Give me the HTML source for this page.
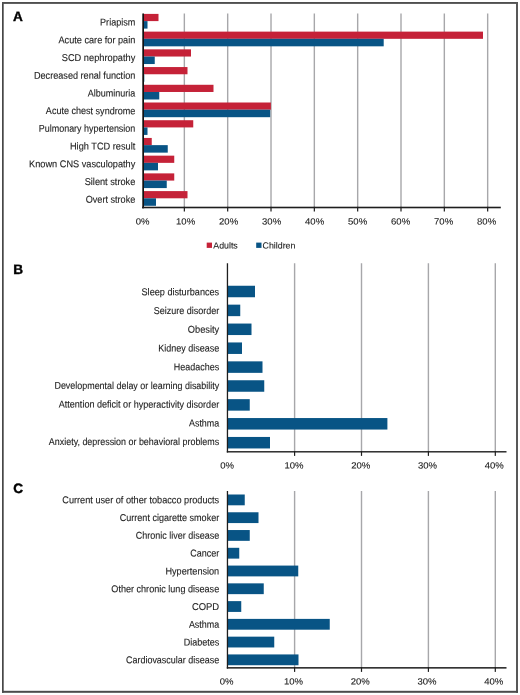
<!DOCTYPE html>
<html><head><meta charset="utf-8"><title>Figure</title>
<style>
html,body{margin:0;padding:0;background:#fff;}
body{width:520px;height:695px;overflow:hidden;}
svg{display:block;font-family:"Liberation Sans",sans-serif;-webkit-font-smoothing:antialiased;will-change:transform;text-rendering:geometricPrecision;}
</style></head>
<body>
<svg width="520" height="695" viewBox="0 0 520 695">
<rect x="0" y="0" width="520" height="695" fill="#fff"/>
<rect x="2.00" y="2.00" width="1.70" height="690.80" fill="#474747"/>
<rect x="2.00" y="2.00" width="516.00" height="1.90" fill="#505050"/>
<rect x="516.00" y="2.00" width="2.00" height="690.80" fill="#585858"/>
<rect x="2.00" y="690.80" width="516.00" height="2.00" fill="#4b4b4b"/>
<g font-size="13.6" font-weight="bold" fill="#000" stroke="#000" stroke-width="0.4">
<text x="12.9" y="20.7">A</text>
<text x="13.3" y="274.1">B</text>
<text x="13.2" y="493.4">C</text>
</g>
<rect x="183.65" y="13.50" width="1.40" height="193.20" fill="#a7a7aa"/>
<rect x="226.98" y="13.50" width="1.40" height="193.20" fill="#a7a7aa"/>
<rect x="270.31" y="13.50" width="1.40" height="193.20" fill="#a7a7aa"/>
<rect x="313.64" y="13.50" width="1.40" height="193.20" fill="#a7a7aa"/>
<rect x="356.97" y="13.50" width="1.40" height="193.20" fill="#a7a7aa"/>
<rect x="400.30" y="13.50" width="1.40" height="193.20" fill="#a7a7aa"/>
<rect x="443.63" y="13.50" width="1.40" height="193.20" fill="#a7a7aa"/>
<rect x="486.96" y="13.50" width="1.40" height="193.20" fill="#a7a7aa"/>
<rect x="143.00" y="13.90" width="15.50" height="7.20" fill="#c52238"/>
<rect x="143.00" y="21.10" width="4.50" height="7.50" fill="#085485"/>
<text transform="translate(135.30,25.55) rotate(0.03) scale(1.0059,1.1)" text-anchor="end" font-size="9" font-weight="normal" fill="#1c1c1c" stroke="#1c1c1c" stroke-width="0.1">Priapism</text>
<rect x="143.00" y="31.62" width="340.00" height="7.20" fill="#c52238"/>
<rect x="143.00" y="38.82" width="240.70" height="7.50" fill="#085485"/>
<text transform="translate(135.30,43.27) rotate(0.03) scale(1.0167,1.1)" text-anchor="end" font-size="9" font-weight="normal" fill="#1c1c1c" stroke="#1c1c1c" stroke-width="0.1">Acute care for pain</text>
<rect x="143.00" y="49.34" width="48.00" height="7.20" fill="#c52238"/>
<rect x="143.00" y="56.54" width="11.75" height="7.50" fill="#085485"/>
<text transform="translate(135.30,60.99) rotate(0.03) scale(1.0282,1.1)" text-anchor="end" font-size="9" font-weight="normal" fill="#1c1c1c" stroke="#1c1c1c" stroke-width="0.1">SCD nephropathy</text>
<rect x="143.00" y="67.06" width="44.50" height="7.20" fill="#c52238"/>
<rect x="143.00" y="74.26" width="1.30" height="7.50" fill="#085485"/>
<text transform="translate(135.30,78.71) rotate(0.03) scale(1.0131,1.1)" text-anchor="end" font-size="9" font-weight="normal" fill="#1c1c1c" stroke="#1c1c1c" stroke-width="0.1">Decreased renal function</text>
<rect x="143.00" y="84.78" width="70.50" height="7.20" fill="#c52238"/>
<rect x="143.00" y="91.98" width="16.25" height="7.50" fill="#085485"/>
<text transform="translate(135.30,96.43) rotate(0.03) scale(1.0,1.1)" text-anchor="end" font-size="9" font-weight="normal" fill="#1c1c1c" stroke="#1c1c1c" stroke-width="0.1">Albuminuria</text>
<rect x="143.00" y="102.50" width="127.90" height="7.20" fill="#c52238"/>
<rect x="143.00" y="109.70" width="127.20" height="7.50" fill="#085485"/>
<text transform="translate(135.30,114.15) rotate(0.03) scale(1.0045,1.1)" text-anchor="end" font-size="9" font-weight="normal" fill="#1c1c1c" stroke="#1c1c1c" stroke-width="0.1">Acute chest syndrome</text>
<rect x="143.00" y="120.22" width="50.25" height="7.20" fill="#c52238"/>
<rect x="143.00" y="127.42" width="4.50" height="7.50" fill="#085485"/>
<text transform="translate(135.30,131.87) rotate(0.03) scale(0.9943,1.1)" text-anchor="end" font-size="9" font-weight="normal" fill="#1c1c1c" stroke="#1c1c1c" stroke-width="0.1">Pulmonary hypertension</text>
<rect x="143.00" y="137.94" width="8.75" height="7.20" fill="#c52238"/>
<rect x="143.00" y="145.14" width="24.75" height="7.50" fill="#085485"/>
<text transform="translate(135.30,149.59) rotate(0.03) scale(1.0234,1.1)" text-anchor="end" font-size="9" font-weight="normal" fill="#1c1c1c" stroke="#1c1c1c" stroke-width="0.1">High TCD result</text>
<rect x="143.00" y="155.66" width="31.25" height="7.20" fill="#c52238"/>
<rect x="143.00" y="162.86" width="15.00" height="7.50" fill="#085485"/>
<text transform="translate(135.30,167.31) rotate(0.03) scale(1.0204,1.1)" text-anchor="end" font-size="9" font-weight="normal" fill="#1c1c1c" stroke="#1c1c1c" stroke-width="0.1">Known CNS vasculopathy</text>
<rect x="143.00" y="173.38" width="31.25" height="7.20" fill="#c52238"/>
<rect x="143.00" y="180.58" width="23.75" height="7.50" fill="#085485"/>
<text transform="translate(135.30,185.03) rotate(0.03) scale(1.0224,1.1)" text-anchor="end" font-size="9" font-weight="normal" fill="#1c1c1c" stroke="#1c1c1c" stroke-width="0.1">Silent stroke</text>
<rect x="143.00" y="191.10" width="44.50" height="7.20" fill="#c52238"/>
<rect x="143.00" y="198.30" width="13.00" height="7.50" fill="#085485"/>
<text transform="translate(135.30,202.75) rotate(0.03) scale(1.0122,1.1)" text-anchor="end" font-size="9" font-weight="normal" fill="#1c1c1c" stroke="#1c1c1c" stroke-width="0.1">Overt stroke</text>
<rect x="142.30" y="13.50" width="1.70" height="194.80" fill="#111"/>
<rect x="142.00" y="206.70" width="358.80" height="1.60" fill="#1e1e1e"/>
<rect x="183.75" y="206.70" width="1.20" height="4.80" fill="#1e1e1e"/>
<rect x="227.08" y="206.70" width="1.20" height="4.80" fill="#1e1e1e"/>
<rect x="270.41" y="206.70" width="1.20" height="4.80" fill="#1e1e1e"/>
<rect x="313.74" y="206.70" width="1.20" height="4.80" fill="#1e1e1e"/>
<rect x="357.07" y="206.70" width="1.20" height="4.80" fill="#1e1e1e"/>
<rect x="400.40" y="206.70" width="1.20" height="4.80" fill="#1e1e1e"/>
<rect x="443.73" y="206.70" width="1.20" height="4.80" fill="#1e1e1e"/>
<rect x="487.06" y="206.70" width="1.20" height="4.80" fill="#1e1e1e"/>
<text transform="translate(142.60,224.40) rotate(0.03) scale(1.06,1.0)" text-anchor="middle" font-size="9" font-weight="normal" fill="#1c1c1c" stroke="#1c1c1c" stroke-width="0.1">0%</text>
<text transform="translate(185.60,224.40) rotate(0.03) scale(1.06,1.0)" text-anchor="middle" font-size="9" font-weight="normal" fill="#1c1c1c" stroke="#1c1c1c" stroke-width="0.1">10%</text>
<text transform="translate(228.60,224.40) rotate(0.03) scale(1.06,1.0)" text-anchor="middle" font-size="9" font-weight="normal" fill="#1c1c1c" stroke="#1c1c1c" stroke-width="0.1">20%</text>
<text transform="translate(271.60,224.40) rotate(0.03) scale(1.06,1.0)" text-anchor="middle" font-size="9" font-weight="normal" fill="#1c1c1c" stroke="#1c1c1c" stroke-width="0.1">30%</text>
<text transform="translate(314.60,224.40) rotate(0.03) scale(1.06,1.0)" text-anchor="middle" font-size="9" font-weight="normal" fill="#1c1c1c" stroke="#1c1c1c" stroke-width="0.1">40%</text>
<text transform="translate(357.60,224.40) rotate(0.03) scale(1.06,1.0)" text-anchor="middle" font-size="9" font-weight="normal" fill="#1c1c1c" stroke="#1c1c1c" stroke-width="0.1">50%</text>
<text transform="translate(400.60,224.40) rotate(0.03) scale(1.06,1.0)" text-anchor="middle" font-size="9" font-weight="normal" fill="#1c1c1c" stroke="#1c1c1c" stroke-width="0.1">60%</text>
<text transform="translate(443.60,224.40) rotate(0.03) scale(1.06,1.0)" text-anchor="middle" font-size="9" font-weight="normal" fill="#1c1c1c" stroke="#1c1c1c" stroke-width="0.1">70%</text>
<text transform="translate(486.60,224.40) rotate(0.03) scale(1.06,1.0)" text-anchor="middle" font-size="9" font-weight="normal" fill="#1c1c1c" stroke="#1c1c1c" stroke-width="0.1">80%</text>
<rect x="206.70" y="242.60" width="5.30" height="5.30" fill="#c52238"/>
<text transform="translate(213.30,248.60) rotate(0.03) scale(1.0,1.0)" text-anchor="start" font-size="8.8" font-weight="normal" fill="#1c1c1c" stroke="#1c1c1c" stroke-width="0.1">Adults</text>
<rect x="256.20" y="242.60" width="5.30" height="5.30" fill="#085485"/>
<text transform="translate(262.60,248.60) rotate(0.03) scale(1.0,1.0)" text-anchor="start" font-size="8.8" font-weight="normal" fill="#1c1c1c" stroke="#1c1c1c" stroke-width="0.1">Children</text>
<rect x="293.90" y="263.25" width="1.40" height="187.85" fill="#a7a7aa"/>
<rect x="360.80" y="263.25" width="1.40" height="187.85" fill="#a7a7aa"/>
<rect x="427.70" y="263.25" width="1.40" height="187.85" fill="#a7a7aa"/>
<rect x="494.60" y="263.25" width="1.40" height="187.85" fill="#a7a7aa"/>
<rect x="227.60" y="285.75" width="27.40" height="11.50" fill="#085485"/>
<text transform="translate(219.20,295.35) rotate(0.03) scale(1.0145,1.1)" text-anchor="end" font-size="9" font-weight="normal" fill="#1c1c1c" stroke="#1c1c1c" stroke-width="0.1">Sleep disturbances</text>
<rect x="227.60" y="304.65" width="12.65" height="11.50" fill="#085485"/>
<text transform="translate(219.20,314.07) rotate(0.03) scale(1.0,1.1)" text-anchor="end" font-size="9" font-weight="normal" fill="#1c1c1c" stroke="#1c1c1c" stroke-width="0.1">Seizure disorder</text>
<rect x="227.60" y="323.55" width="23.90" height="11.50" fill="#085485"/>
<text transform="translate(219.20,332.79) rotate(0.03) scale(1.03,1.1)" text-anchor="end" font-size="9" font-weight="normal" fill="#1c1c1c" stroke="#1c1c1c" stroke-width="0.1">Obesity</text>
<rect x="227.60" y="342.45" width="14.40" height="11.50" fill="#085485"/>
<text transform="translate(219.20,351.51) rotate(0.03) scale(1.0,1.1)" text-anchor="end" font-size="9" font-weight="normal" fill="#1c1c1c" stroke="#1c1c1c" stroke-width="0.1">Kidney disease</text>
<rect x="227.60" y="361.35" width="34.90" height="11.50" fill="#085485"/>
<text transform="translate(219.20,370.23) rotate(0.03) scale(0.9956,1.1)" text-anchor="end" font-size="9" font-weight="normal" fill="#1c1c1c" stroke="#1c1c1c" stroke-width="0.1">Headaches</text>
<rect x="227.60" y="380.25" width="36.65" height="11.50" fill="#085485"/>
<text transform="translate(219.20,388.95) rotate(0.03) scale(0.9919,1.1)" text-anchor="end" font-size="9" font-weight="normal" fill="#1c1c1c" stroke="#1c1c1c" stroke-width="0.1">Developmental delay or learning disability</text>
<rect x="227.60" y="399.15" width="22.15" height="11.50" fill="#085485"/>
<text transform="translate(219.20,407.67) rotate(0.03) scale(1.0056,1.1)" text-anchor="end" font-size="9" font-weight="normal" fill="#1c1c1c" stroke="#1c1c1c" stroke-width="0.1">Attention deficit or hyperactivity disorder</text>
<rect x="227.60" y="418.05" width="159.80" height="11.50" fill="#085485"/>
<text transform="translate(219.20,426.39) rotate(0.03) scale(0.9903,1.1)" text-anchor="end" font-size="9" font-weight="normal" fill="#1c1c1c" stroke="#1c1c1c" stroke-width="0.1">Asthma</text>
<rect x="227.60" y="436.95" width="42.40" height="11.50" fill="#085485"/>
<text transform="translate(219.20,445.11) rotate(0.03) scale(0.9907,1.1)" text-anchor="end" font-size="9" font-weight="normal" fill="#1c1c1c" stroke="#1c1c1c" stroke-width="0.1">Anxiety, depression or behavioral problems</text>
<rect x="226.80" y="263.25" width="1.30" height="189.25" fill="#1e1e1e"/>
<rect x="226.80" y="451.10" width="279.70" height="1.40" fill="#1e1e1e"/>
<rect x="294.00" y="451.10" width="1.20" height="4.80" fill="#1e1e1e"/>
<rect x="360.90" y="451.10" width="1.20" height="4.80" fill="#1e1e1e"/>
<rect x="427.80" y="451.10" width="1.20" height="4.80" fill="#1e1e1e"/>
<rect x="494.70" y="451.10" width="1.20" height="4.80" fill="#1e1e1e"/>
<text transform="translate(227.20,468.50) rotate(0.03) scale(1.06,1.0)" text-anchor="middle" font-size="9" font-weight="normal" fill="#1c1c1c" stroke="#1c1c1c" stroke-width="0.1">0%</text>
<text transform="translate(293.95,468.50) rotate(0.03) scale(1.06,1.0)" text-anchor="middle" font-size="9" font-weight="normal" fill="#1c1c1c" stroke="#1c1c1c" stroke-width="0.1">10%</text>
<text transform="translate(360.70,468.50) rotate(0.03) scale(1.06,1.0)" text-anchor="middle" font-size="9" font-weight="normal" fill="#1c1c1c" stroke="#1c1c1c" stroke-width="0.1">20%</text>
<text transform="translate(427.45,468.50) rotate(0.03) scale(1.06,1.0)" text-anchor="middle" font-size="9" font-weight="normal" fill="#1c1c1c" stroke="#1c1c1c" stroke-width="0.1">30%</text>
<text transform="translate(494.20,468.50) rotate(0.03) scale(1.06,1.0)" text-anchor="middle" font-size="9" font-weight="normal" fill="#1c1c1c" stroke="#1c1c1c" stroke-width="0.1">40%</text>
<rect x="293.90" y="491.00" width="1.40" height="176.10" fill="#a7a7aa"/>
<rect x="360.80" y="491.00" width="1.40" height="176.10" fill="#a7a7aa"/>
<rect x="427.70" y="491.00" width="1.40" height="176.10" fill="#a7a7aa"/>
<rect x="494.60" y="491.00" width="1.40" height="176.10" fill="#a7a7aa"/>
<rect x="227.60" y="494.50" width="17.15" height="10.80" fill="#085485"/>
<text transform="translate(219.20,503.25) rotate(0.03) scale(1.0182,1.1)" text-anchor="end" font-size="9" font-weight="normal" fill="#1c1c1c" stroke="#1c1c1c" stroke-width="0.1">Current user of other tobacco products</text>
<rect x="227.60" y="512.27" width="30.90" height="10.80" fill="#085485"/>
<text transform="translate(219.20,521.04) rotate(0.03) scale(1.004,1.1)" text-anchor="end" font-size="9" font-weight="normal" fill="#1c1c1c" stroke="#1c1c1c" stroke-width="0.1">Current cigarette smoker</text>
<rect x="227.60" y="530.04" width="22.15" height="10.80" fill="#085485"/>
<text transform="translate(219.20,538.83) rotate(0.03) scale(1.0,1.1)" text-anchor="end" font-size="9" font-weight="normal" fill="#1c1c1c" stroke="#1c1c1c" stroke-width="0.1">Chronic liver disease</text>
<rect x="227.60" y="547.81" width="11.65" height="10.80" fill="#085485"/>
<text transform="translate(219.20,556.62) rotate(0.03) scale(1.0,1.1)" text-anchor="end" font-size="9" font-weight="normal" fill="#1c1c1c" stroke="#1c1c1c" stroke-width="0.1">Cancer</text>
<rect x="227.60" y="565.58" width="70.65" height="10.80" fill="#085485"/>
<text transform="translate(219.20,574.41) rotate(0.03) scale(1.0135,1.1)" text-anchor="end" font-size="9" font-weight="normal" fill="#1c1c1c" stroke="#1c1c1c" stroke-width="0.1">Hypertension</text>
<rect x="227.60" y="583.35" width="36.15" height="10.80" fill="#085485"/>
<text transform="translate(219.20,592.20) rotate(0.03) scale(1.0075,1.1)" text-anchor="end" font-size="9" font-weight="normal" fill="#1c1c1c" stroke="#1c1c1c" stroke-width="0.1">Other chronic lung disease</text>
<rect x="227.60" y="601.12" width="13.65" height="10.80" fill="#085485"/>
<text transform="translate(219.20,609.99) rotate(0.03) scale(1.05,1.1)" text-anchor="end" font-size="9" font-weight="normal" fill="#1c1c1c" stroke="#1c1c1c" stroke-width="0.1">COPD</text>
<rect x="227.60" y="618.89" width="102.15" height="10.80" fill="#085485"/>
<text transform="translate(219.20,627.78) rotate(0.03) scale(0.9935,1.1)" text-anchor="end" font-size="9" font-weight="normal" fill="#1c1c1c" stroke="#1c1c1c" stroke-width="0.1">Asthma</text>
<rect x="227.60" y="636.66" width="46.65" height="10.80" fill="#085485"/>
<text transform="translate(219.20,645.57) rotate(0.03) scale(1.0,1.1)" text-anchor="end" font-size="9" font-weight="normal" fill="#1c1c1c" stroke="#1c1c1c" stroke-width="0.1">Diabetes</text>
<rect x="227.60" y="654.43" width="70.90" height="10.80" fill="#085485"/>
<text transform="translate(219.20,663.36) rotate(0.03) scale(0.9968,1.1)" text-anchor="end" font-size="9" font-weight="normal" fill="#1c1c1c" stroke="#1c1c1c" stroke-width="0.1">Cardiovascular disease</text>
<rect x="226.80" y="491.00" width="1.30" height="177.60" fill="#1e1e1e"/>
<rect x="226.80" y="667.10" width="279.70" height="1.50" fill="#1e1e1e"/>
<rect x="294.00" y="667.10" width="1.20" height="4.80" fill="#1e1e1e"/>
<rect x="360.90" y="667.10" width="1.20" height="4.80" fill="#1e1e1e"/>
<rect x="427.80" y="667.10" width="1.20" height="4.80" fill="#1e1e1e"/>
<rect x="494.70" y="667.10" width="1.20" height="4.80" fill="#1e1e1e"/>
<text transform="translate(226.70,684.50) rotate(0.03) scale(1.06,1.0)" text-anchor="middle" font-size="9" font-weight="normal" fill="#1c1c1c" stroke="#1c1c1c" stroke-width="0.1">0%</text>
<text transform="translate(293.45,684.50) rotate(0.03) scale(1.06,1.0)" text-anchor="middle" font-size="9" font-weight="normal" fill="#1c1c1c" stroke="#1c1c1c" stroke-width="0.1">10%</text>
<text transform="translate(360.20,684.50) rotate(0.03) scale(1.06,1.0)" text-anchor="middle" font-size="9" font-weight="normal" fill="#1c1c1c" stroke="#1c1c1c" stroke-width="0.1">20%</text>
<text transform="translate(426.95,684.50) rotate(0.03) scale(1.06,1.0)" text-anchor="middle" font-size="9" font-weight="normal" fill="#1c1c1c" stroke="#1c1c1c" stroke-width="0.1">30%</text>
<text transform="translate(493.70,684.50) rotate(0.03) scale(1.06,1.0)" text-anchor="middle" font-size="9" font-weight="normal" fill="#1c1c1c" stroke="#1c1c1c" stroke-width="0.1">40%</text>
</svg>
</body></html>
